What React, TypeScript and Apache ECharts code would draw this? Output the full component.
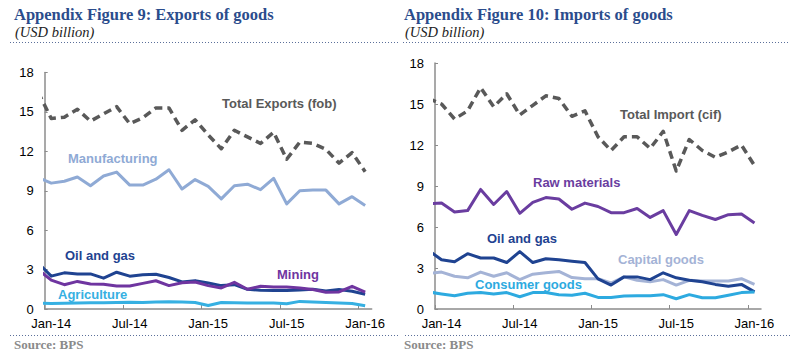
import React, { useEffect, useRef } from 'react';
import * as echarts from 'echarts';

// Months: Dec-13 (partly outside the plot, clipped) through Jan-16
const months = [
  'Dec-13',
  'Jan-14', 'Feb-14', 'Mar-14', 'Apr-14', 'May-14', 'Jun-14', 'Jul-14', 'Aug-14', 'Sep-14', 'Oct-14', 'Nov-14', 'Dec-14',
  'Jan-15', 'Feb-15', 'Mar-15', 'Apr-15', 'May-15', 'Jun-15', 'Jul-15', 'Aug-15', 'Sep-15', 'Oct-15', 'Nov-15', 'Dec-15',
  'Jan-16',
];
const xTickLabels = ['Jan-14', 'Jul-14', 'Jan-15', 'Jul-15', 'Jan-16'];

// Exports (USD billion)
const totalExports = [16.5, 14.5, 14.6, 15.2, 14.3, 14.85, 15.4, 14.1, 14.55, 15.3, 15.3, 13.6, 14.4, 13.25, 12.2, 13.6, 13.1, 12.6, 13.45, 11.4, 12.7, 12.6, 12.15, 11.1, 11.9, 10.45];
const manufacturing = [10.0, 9.58, 9.72, 10.05, 9.38, 10.12, 10.42, 9.43, 9.43, 9.88, 10.6, 9.13, 9.85, 9.33, 8.38, 9.38, 9.5, 9.08, 9.95, 8.0, 9.0, 9.05, 9.05, 8.0, 8.55, 7.88];
const oilGasExports = [3.5, 2.5, 2.75, 2.66, 2.67, 2.35, 2.8, 2.5, 2.6, 2.65, 2.4, 2.06, 2.16, 1.98, 1.78, 1.85, 1.5, 1.42, 1.4, 1.4, 1.45, 1.5, 1.38, 1.48, 1.35, 1.12];
const mining = [3.0, 2.2, 1.85, 2.1, 1.9, 1.88, 1.75, 1.75, 1.95, 2.15, 1.78, 2.0, 2.06, 1.78, 1.6, 2.03, 1.5, 1.73, 1.68, 1.68, 1.6, 1.48, 1.28, 1.3, 1.73, 1.28];
const agriculture = [0.45, 0.42, 0.44, 0.46, 0.47, 0.48, 0.5, 0.52, 0.5, 0.53, 0.55, 0.53, 0.5, 0.27, 0.5, 0.47, 0.45, 0.45, 0.45, 0.4, 0.58, 0.53, 0.5, 0.45, 0.42, 0.25];

// Imports (USD billion)
const totalImports = [15.4, 15.0, 13.9, 14.5, 16.2, 14.8, 15.75, 14.2, 14.9, 15.6, 15.4, 14.1, 14.5, 12.6, 11.6, 12.6, 12.6, 11.75, 13.0, 10.1, 12.4, 11.6, 11.1, 11.5, 12.0, 10.5];
const rawMaterials = [7.7, 7.75, 7.1, 7.2, 8.75, 7.65, 8.6, 7.0, 7.8, 8.15, 8.05, 7.3, 7.75, 7.5, 7.05, 7.05, 7.35, 6.7, 7.2, 5.45, 7.2, 6.85, 6.55, 6.9, 6.95, 6.3];
const oilGasImports = [4.3, 3.6, 3.45, 4.05, 3.73, 3.73, 3.4, 4.2, 3.4, 3.68, 3.6, 3.5, 3.4, 2.2, 1.75, 2.35, 2.35, 2.15, 2.65, 2.28, 2.1, 2.0, 1.8, 1.67, 1.8, 1.25];
const capitalGoods = [2.6, 2.7, 2.4, 2.28, 2.7, 2.4, 2.65, 2.15, 2.55, 2.65, 2.75, 2.3, 2.22, 2.22, 1.9, 2.35, 2.1, 2.0, 2.15, 1.75, 2.1, 2.05, 2.05, 2.05, 2.22, 1.8];
const consumerGoods = [1.25, 1.1, 0.97, 1.15, 1.2, 1.1, 1.2, 0.9, 1.2, 1.2, 1.05, 1.0, 1.15, 0.85, 0.85, 0.95, 0.97, 0.97, 1.05, 0.75, 1.05, 0.82, 0.82, 1.0, 1.2, 1.25];

const COLORS = {
  total: '#595959',
  manufacturing: '#8FAAD5',
  oilGas: '#1F4391',
  mining: '#6F35A0',
  agriculture: '#36B0E2',
  raw: '#6A3DA0',
  capital: '#A4B3D6',
  consumer: '#2DAAE0',
  title: '#2B4C8C',
  axis: '#8c8c8c',
  dotted: '#5b6f9a',
};

const SANS = "'Liberation Sans', Arial, sans-serif";
const SERIF = "'Liberation Serif', 'Times New Roman', serif";

// x position: month index shifted so Jan-14 sits at the centre of the first slot
const toPoints = (values: number[]) => values.map((v, i) => [i - 0.5, v]);

function makeX(gridIndex: number) {
  return {
    type: 'value',
    gridIndex,
    min: 0,
    max: 25,
    axisLine: { show: true, onZero: false, lineStyle: { color: COLORS.axis, width: 1.5 } },
    axisTick: { show: true, inside: true, length: 4, customValues: [0, 6, 12, 18, 24], lineStyle: { color: COLORS.axis } },
    axisLabel: {
      customValues: [0.5, 6.5, 12.5, 18.5, 24.5],
      formatter: (v: number) => xTickLabels[Math.round((v - 0.5) / 6)] ?? '',
      color: '#000',
      fontSize: 13,
      fontFamily: SANS,
      margin: 8,
    },
    splitLine: { show: false },
  };
}

function makeY(gridIndex: number) {
  return {
    type: 'value',
    gridIndex,
    min: 0,
    max: 18,
    interval: 3,
    axisLine: { show: true, lineStyle: { color: COLORS.axis, width: 1.5 } },
    axisTick: { show: true, inside: true, length: 3, lineStyle: { color: COLORS.axis } },
    axisLabel: { color: '#000', fontSize: 13, fontFamily: SANS, margin: 11 },
    splitLine: { show: false },
  };
}

function line(name: string, values: number[], color: string, idx: number, dashed = false) {
  return {
    type: 'line',
    name,
    xAxisIndex: idx,
    yAxisIndex: idx,
    data: toPoints(values),
    showSymbol: false,
    symbol: 'none',
    clip: true,
    lineStyle: {
      color,
      width: dashed ? 3.5 : 3,
      type: dashed ? [8, 5] : 'solid',
      join: 'round',
    },
  };
}

function txt(x: number, y: number, text: string, color: string, font: any = {}) {
  return {
    type: 'text',
    x,
    y,
    style: {
      text,
      fill: color,
      fontSize: font.size ?? 13,
      fontWeight: font.weight ?? 'bold',
      fontStyle: font.style ?? 'normal',
      fontFamily: font.family ?? SANS,
      verticalAlign: 'middle',
      align: 'left',
    },
  };
}

function dotted(x1: number, x2: number, y: number) {
  return {
    type: 'line',
    shape: { x1, y1: y, x2, y2: y },
    style: { stroke: COLORS.dotted, lineWidth: 1, lineDash: [1, 2] },
  };
}

export default function App() {
  const ref = useRef<HTMLDivElement>(null);
  useEffect(() => {
    if (!ref.current) return;
    const chart = echarts.init(ref.current, undefined, { renderer: 'svg' });
    const titleFont = { size: 16.5, weight: 'bold', family: SERIF };
    const subFont = { size: 14.5, weight: 'normal', style: 'italic', family: SERIF };
    const srcFont = { size: 13, weight: 'bold', family: SERIF };
    chart.setOption({
      animation: false,
      backgroundColor: '#fff',
      grid: [
        { left: 44.7, top: 72.5, width: 327, height: 236.5 },
        { left: 435, top: 63, width: 326, height: 246 },
      ],
      xAxis: [makeX(0), makeX(1)],
      yAxis: [makeY(0), makeY(1)],
      series: [
        line('Total Exports (fob)', totalExports, COLORS.total, 0, true),
        line('Manufacturing', manufacturing, COLORS.manufacturing, 0),
        line('Oil and gas', oilGasExports, COLORS.oilGas, 0),
        line('Mining', mining, COLORS.mining, 0),
        line('Agriculture', agriculture, COLORS.agriculture, 0),
        line('Total Import (cif)', totalImports, COLORS.total, 1, true),
        line('Raw materials', rawMaterials, COLORS.raw, 1),
        line('Capital goods', capitalGoods, COLORS.capital, 1),
        line('Oil and gas ', oilGasImports, COLORS.oilGas, 1),
        line('Consumer goods', consumerGoods, COLORS.consumer, 1),
      ],
      graphic: [
        txt(14, 14.5, 'Appendix Figure 9: Exports of goods', COLORS.title, titleFont),
        txt(15, 32, '(USD billion)', '#222', subFont),
        dotted(10, 400, 42.5),
        txt(404, 14.5, 'Appendix Figure 10: Imports of goods', COLORS.title, titleFont),
        txt(405, 32, '(USD billion)', '#222', subFont),
        dotted(403, 790, 42.5),
        dotted(10, 400, 335.5),
        dotted(405, 790, 335.5),
        txt(14, 344, 'Source: BPS', '#8a8a8a', srcFont),
        txt(404, 344, 'Source: BPS', '#8a8a8a', srcFont),
        // series labels, left chart
        txt(222, 103, 'Total Exports (fob)', COLORS.total),
        txt(68, 158, 'Manufacturing', COLORS.manufacturing),
        txt(65, 255, 'Oil and gas', COLORS.oilGas),
        txt(277, 274, 'Mining', COLORS.mining),
        txt(58, 294, 'Agriculture', COLORS.agriculture),
        // series labels, right chart
        txt(620, 114, 'Total Import (cif)', COLORS.total),
        txt(533, 182, 'Raw materials', COLORS.raw),
        txt(487, 238, 'Oil and gas', COLORS.oilGas),
        txt(618, 259, 'Capital goods', COLORS.capital),
        txt(475, 284, 'Consumer goods', COLORS.consumer),
      ],
    });
    return () => chart.dispose();
  }, []);
  return (
    <div
      ref={ref}
      style={{ position: 'fixed', left: 0, top: 0, width: 801, height: 361, background: '#fff' }}
    />
  );
}
